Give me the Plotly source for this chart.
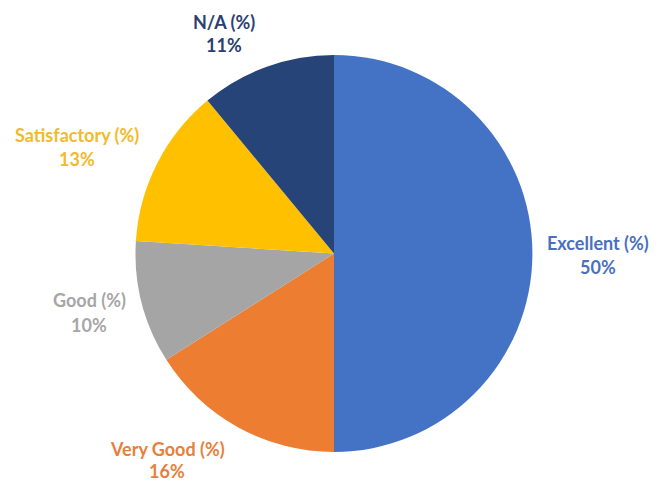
import plotly.graph_objects as go

categories = ["Excellent (%)", "Very Good (%)", "Good (%)", "Satisfactory (%)", "N/A (%)"]
values = [50, 16, 10, 13, 11]
slice_colors = ["#4472C4", "#ED7D31", "#A5A5A5", "#FFC000", "#264478"]
text_colors = ["#4A6FBF", "#E8803A", "#A6A6A6", "#F2BA2C", "#2A4070"]

# the page body has an 8px margin, so the figure is drawn 8px in from the top-left
OFF = 8
W, H = 659 - OFF, 481 - OFF
# label centre positions in window pixels (x, name line y, value line y)
label_pos = [
    (598, 243, 267),
    (167, 449, 471),
    (89, 300, 325),
    (77, 135, 159),
    (224, 22, 45),
]
cx, cy, r = 334, 253.5, 198.5

fig = go.Figure(go.Pie(
    labels=categories,
    values=values,
    sort=False,
    direction="clockwise",
    rotation=0,
    marker=dict(colors=slice_colors, line=dict(width=0)),
    textinfo="none",
    hoverinfo="label+percent",
    showlegend=False,
    domain=dict(x=[(cx - OFF - r) / W, (cx - OFF + r) / W],
                y=[1 - (cy - OFF + r) / H, 1 - (cy - OFF - r) / H]),
))

total = sum(values)
annotations = []
for cat, v, col, (px, py1, py2) in zip(categories, values, text_colors, label_pos):
    pct = round(100 * v / total)
    for txt, py in ((cat, py1), (f"{pct}%", py2)):
        annotations.append(dict(
            x=(px - OFF) / W, y=1 - (py - OFF) / H, xref="paper", yref="paper",
            text=f"<b>{txt}</b>", showarrow=False,
            xanchor="center", yanchor="middle",
            font=dict(family="Lato, Open Sans, sans-serif", size=18, color=col),
        ))

fig.update_layout(
    width=W, height=H,
    margin=dict(l=0, r=0, t=0, b=0),
    paper_bgcolor="white",
    plot_bgcolor="white",
    annotations=annotations,
)

fig.write_html("out.html")
